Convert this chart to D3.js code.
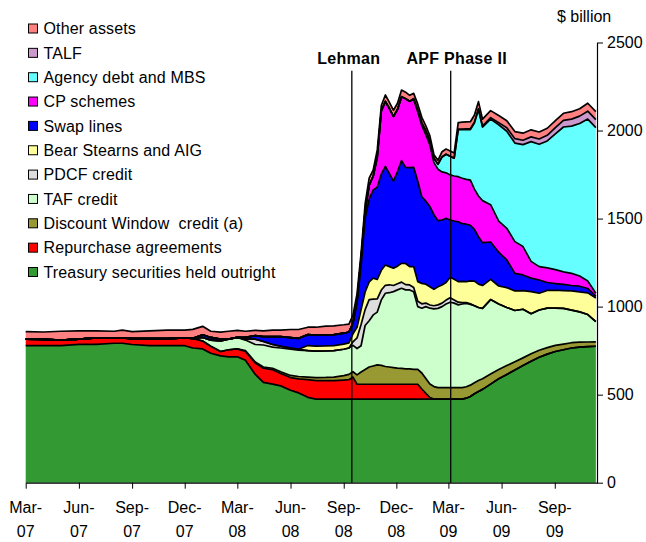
<!DOCTYPE html>
<html><head><meta charset="utf-8">
<script src="https://cdn.jsdelivr.net/npm/d3@7"></script>
<style>
body{margin:0;background:#fff;}
svg{display:block;font-family:"Liberation Sans",Arial,sans-serif;}
</style></head><body>
<svg id="chart" width="646" height="542"></svg>
<script>
// ---- DATA ($ billion) ----
const dates = ["2007-03-01","2007-04-01","2007-05-01","2007-06-01","2007-07-01","2007-08-01","2007-08-15","2007-09-01","2007-10-01","2007-11-01","2007-12-01","2007-12-15",
"2008-01-01","2008-01-15","2008-02-01","2008-02-15","2008-03-01","2008-03-15","2008-04-01","2008-04-15","2008-05-01","2008-05-15","2008-06-01","2008-06-15","2008-07-01","2008-07-15","2008-08-01","2008-08-15","2008-09-01","2008-09-10",
"2008-09-17","2008-09-24","2008-10-01","2008-10-08","2008-10-15","2008-10-22","2008-10-29","2008-11-05","2008-11-12","2008-11-19","2008-11-26","2008-12-03","2008-12-10","2008-12-17","2008-12-24","2008-12-31",
"2009-01-07","2009-01-14","2009-01-21","2009-01-28","2009-02-04","2009-02-11","2009-02-18","2009-02-25","2009-03-04","2009-03-11","2009-03-18",
"2009-03-25","2009-04-01","2009-04-08","2009-04-15","2009-04-22","2009-04-29",
"2009-05-13","2009-05-27","2009-06-10","2009-06-24","2009-07-08","2009-07-22","2009-08-05","2009-08-19","2009-09-02","2009-09-16","2009-09-30","2009-10-14","2009-10-28","2009-11-11"];

const treasury = [778,778,778,786,786,792,792,785,778,778,778,765,
760,735,720,715,715,695,615,570,560,550,525,510,485,475,475,475,475,475,
475,475,475,475,475,475,475,475,475,475,475,475,475,475,475,475,
475,475,475,475,475,475,475,475,475,475,475,
475,480,490,505,518,530,
560,590,615,640,665,690,712,730,745,755,765,770,773,775];
const repo = [37,36,32,29,36,30,30,33,40,40,45,55,
45,40,25,40,45,50,65,80,82,70,72,80,100,105,105,105,108,110,
125,84,84,84,84,84,84,84,84,84,84,84,84,84,84,84,
84,57,32,9,0,0,0,0,0,0,0,
0,0,0,0,0,0,
0,0,0,0,0,0,0,0,0,0,0,0,0,0];
const discountWindow = [0,0,0,0,0,0,0,0,0,0,0,0,
0,0,0,0,0,5,5,7,8,10,12,13,15,17,18,20,25,30,
30,53,70,84,98,104,110,107,101,98,95,92,90,87,87,85,
85,91,85,77,71,65,65,65,65,65,65,
65,65,64,63,62,60,
57,53,50,47,44,42,40,37,35,32,30,28,26,25];
const tafCredit = [0,0,0,0,0,0,0,0,0,0,0,0,
20,35,60,60,65,60,100,125,120,135,150,150,150,150,150,150,150,150,
150,150,149,250,263,290,300,372,416,422,431,444,455,449,449,440,
356,368,408,430,441,450,460,475,485,480,470,
475,473,459,437,415,400,
423,372,330,291,276,228,229,224,212,203,185,172,156,115];
const pdcfCredit = [0,0,0,0,0,0,0,0,0,0,0,0,
0,0,0,0,0,5,30,20,15,10,5,5,0,0,0,0,0,0,
20,60,120,90,120,90,75,56,45,45,35,35,35,30,28,25,
30,25,20,18,18,20,20,22,25,18,15,
8,5,3,0,0,0,
0,0,0,0,0,0,0,0,0,0,0,0,0,0];
const bearStearnsAIG = [0,0,0,0,0,0,0,0,0,0,0,0,
0,0,0,0,0,0,0,0,0,0,0,0,29,29,29,29,29,29,
45,60,85,100,100,119,110,112,115,103,98,100,107,120,104,118,
112,116,107,104,93,103,103,100,117,117,117,
120,119,130,140,133,130,
115,102,113,111,106,125,95,101,101,101,109,113,123,134];
const swapLines = [0,0,0,0,0,0,0,0,0,0,0,0,
15,15,10,0,0,10,20,28,45,55,60,62,62,62,62,62,62,62,
62,135,250,420,470,500,525,546,560,528,495,537,583,546,562,564,
570,492,472,455,424,375,369,364,325,331,340,
328,326,316,294,269,243,
212,192,157,100,89,77,75,45,38,35,31,33,25,11];
const cpSchemes = [0,0,0,0,0,0,0,0,0,0,0,0,
0,0,0,0,0,0,0,0,0,0,0,0,0,0,0,0,0,0,
0,20,40,40,80,80,171,360,370,370,367,353,363,389,377,385,
395,405,378,350,296,292,273,259,256,256,256,
258,255,256,228,231,239,
212,177,180,180,161,95,76,83,79,71,69,58,43,16];
const agencyMBS = [0,0,0,0,0,0,0,0,0,0,0,0,
0,0,0,0,0,0,0,0,0,0,0,0,0,0,0,0,0,0,
0,0,0,0,0,0,0,0,0,0,0,0,0,0,0,5,
10,15,22,25,25,28,85,105,106,101,269,
276,282,287,376,491,418,
486,547,551,560,579,680,695,721,771,823,836,866,919,941];
const talf = [0,0,0,0,0,0,0,0,0,0,0,0,
0,0,0,0,0,0,0,0,0,0,0,0,0,0,0,0,0,0,
0,0,0,0,0,0,0,0,0,0,0,0,0,0,0,0,
0,0,0,0,0,0,0,0,0,0,0,
3,4,5,5,5,5,
8,12,20,25,25,27,30,32,35,38,40,42,45,45];
const otherAssets = [43,42,50,47,40,38,45,40,44,49,44,51,
48,35,40,45,40,35,30,32,36,37,46,50,42,45,50,50,48,45,
45,35,30,40,40,34,40,30,36,35,35,35,38,38,34,30,
33,31,28,27,20,23,30,30,30,30,38,
40,40,40,40,40,40,
40,40,40,40,40,40,40,40,40,40,42,42,45,45];

const seriesNames = ["Treasury securities held outright","Repurchase agreements","Discount Window  credit (a)","TAF credit","PDCF credit","Bear Stearns and AIG","Swap lines","CP schemes","Agency debt and MBS","TALF","Other assets"];
const seriesColors = ["#339933","#ff0000","#999933","#ccffcc","#dddddd","#ffff99","#0000ff","#ff00ff","#66ffff","#cc99cc","#ff8080"];
const seriesValues = [treasury,repo,discountWindow,tafCredit,pdcfCredit,bearStearnsAIG,swapLines,cpSchemes,agencyMBS,talf,otherAssets];

const yTicks = [0,500,1000,1500,2000,2500];
const xTickDates = ["2007-03-01","2007-06-01","2007-09-01","2007-12-01","2008-03-01","2008-06-01","2008-09-01","2008-12-01","2009-03-01","2009-06-01","2009-09-01"];
const xTickLabels = [["Mar-","07"],["Jun-","07"],["Sep-","07"],["Dec-","07"],["Mar-","08"],["Jun-","08"],["Sep-","08"],["Dec-","08"],["Mar-","09"],["Jun-","09"],["Sep-","09"]];
const events = [{date:"2008-09-15",label:"Lehman",dx:-3},{date:"2009-03-05",label:"APF Phase II",dx:6}];
const unitLabel = "$ billion";

// ---- BUILD ----
const parse = d3.timeParse("%Y-%m-%d");
const keys = seriesNames.map((_,i)=>"s"+i);
const rows = dates.map((d,i)=>{
  const r = {date: parse(d)};
  keys.forEach((k,j)=>{ r[k] = seriesValues[j][i]; });
  return r;
});
const stacked = d3.stack().keys(keys)(rows);

const svg = d3.select("#chart");
const x = d3.scaleTime().domain([parse("2007-03-01"), parse("2009-11-13")]).range([25.7, 597]);
const y = d3.scaleLinear().domain([0,2500]).range([482.7, 42.5]);

const area = d3.area().x(d=>x(d.data.date)).y0(d=>y(d[0])).y1(d=>y(d[1]));
const line = d3.line().x(d=>x(d.data.date)).y(d=>y(d[1]));

svg.append("g").selectAll("path").data(stacked).join("path")
  .attr("d", area).attr("fill",(d,i)=>seriesColors[i]).attr("stroke","none");
svg.append("g").selectAll("path").data(stacked).join("path")
  .attr("d", line).attr("fill","none").attr("stroke","#000")
  .attr("stroke-width",1.7).attr("stroke-linejoin","round");

// event lines
const ev = svg.append("g");
events.forEach(e=>{
  const xe = x(parse(e.date));
  ev.append("line").attr("x1",xe).attr("x2",xe).attr("y1",y(2340)).attr("y2",y(0))
    .attr("stroke","#000").attr("stroke-width",1.3);
  ev.append("text").attr("x",xe+e.dx).attr("y",64).attr("text-anchor","middle")
    .attr("font-size",16).attr("font-weight","bold").attr("letter-spacing",0.3).text(e.label);
});

// x axis
const xAxis = svg.append("g").attr("transform",`translate(0,${y(0)})`)
  .call(d3.axisBottom(x).tickValues(xTickDates.map(parse)).tickSize(6).tickSizeOuter(0).tickFormat(""));
xAxis.select(".domain").attr("stroke","#000").attr("stroke-width",1.2);
xAxis.selectAll(".tick line").attr("stroke","#000");
const xl = svg.append("g").attr("font-size",16).attr("fill","#000").attr("text-anchor","middle");
xTickDates.forEach((d,i)=>{
  const t = xl.append("text").attr("x", x(parse(d))).attr("y", 512.5);
  t.append("tspan").attr("x", x(parse(d))).text(xTickLabels[i][0]);
  t.append("tspan").attr("x", x(parse(d))).attr("dy", 24).text(xTickLabels[i][1]);
});

// y axis (right)
const yAxis = svg.append("g").attr("transform",`translate(${x.range()[1]},0)`)
  .call(d3.axisRight(y).tickValues(yTicks).tickSize(6).tickSizeOuter(0).tickPadding(4).tickFormat(d3.format("d")));
yAxis.select(".domain").attr("stroke","#000").attr("stroke-width",1.2);
yAxis.selectAll(".tick line").attr("stroke","#000");
yAxis.selectAll(".tick text").attr("font-size",16).attr("fill","#000").attr("font-family","Liberation Sans, Arial, sans-serif");

svg.append("text").attr("x",557).attr("y",22).attr("font-size",16).text(unitLabel);

// legend
const leg = svg.append("g");
const order = d3.range(seriesNames.length).reverse();
order.forEach((si,row)=>{
  const cy = 28.5 + row*24.35;
  leg.append("rect").attr("x",28.5).attr("y",cy-4.5).attr("width",9).attr("height",9)
    .attr("fill",seriesColors[si]).attr("stroke","#000").attr("stroke-width",1);
  leg.append("text").attr("x",43.5).attr("y",cy+5.8).attr("font-size",16)
    .attr("letter-spacing",0.15).style("white-space","pre").text(seriesNames[si]);
});
</script>
</body></html>
